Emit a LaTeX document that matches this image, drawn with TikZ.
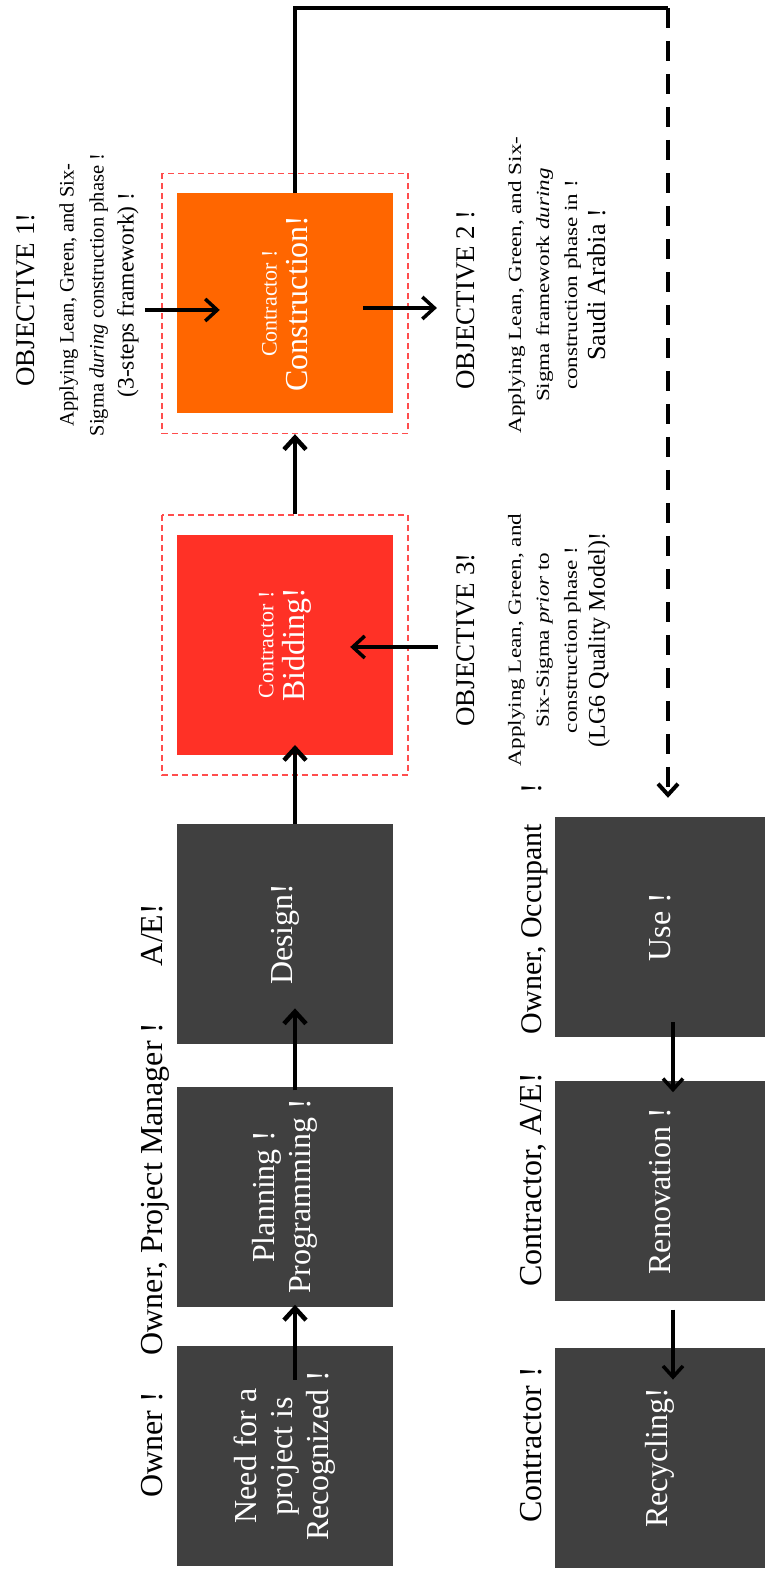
\documentclass[tikz,border=0pt]{standalone}
\usepackage{fontspec}
\setmainfont{Liberation Serif}
\newfontfamily\widefont{Liberation Serif}[FakeStretch=1.25]
\usepackage{xcolor}
\usepackage{tikz}
\usetikzlibrary{positioning, calc, arrows.meta}
\definecolor{stagegray}{RGB}{64, 64, 64}
\definecolor{bidred}{RGB}{255, 49, 38}
\definecolor{conorange}{RGB}{255, 102, 0}
\definecolor{zonered}{RGB}{255, 77, 77}

\begin{document}
\begin{tikzpicture}[rotate=90, transform shape, x=1pt, y=1pt, node distance=40pt,
    stagebox/.style={rectangle, fill=stagegray, text=white, minimum width=220pt, minimum height=216pt, inner sep=0pt, align=center, font=\fontsize{32}{36}\selectfont},
    lifebox/.style={stagebox, minimum height=210pt},
    zonebox/.style={rectangle, draw=zonered, line width=1.6pt, dash pattern=on 6pt off 4pt, minimum width=260pt, minimum height=246pt},
    rolelabel/.style={anchor=base, inner sep=0pt, font=\fontsize{32}{36}\selectfont},
    objtitle/.style={anchor=base, inner sep=0pt, font=\fontsize{27}{30}\selectfont},
    objtext/.style={inner sep=0pt, align=center, font=\widefont\fontsize{18.5}{28}\selectfont},
    flowarrow/.style={line width=4.5pt, -{Straight Barb[length=12pt, width=22pt]}},
    objarrow/.style={line width=3.5pt, -{Straight Barb[length=12pt, width=22pt]}},
    cyclearrow/.style={line width=3.5pt, -{Straight Barb[length=11pt, width=20pt]}},
    returnline/.style={line width=4pt}]

    \useasboundingbox (0,0) rectangle (1570,765);

    % Project stages
    \node[stagebox] (need) at (114,480) {Need for a\\ project is\\ Recognized !};
    \node[stagebox, right=39pt of need] (planning) {Planning !\\ Programming !};
    \node[stagebox, right=42pt of planning] (design) {Design!};
    \node[stagebox, fill=bidred, right=69pt of design] (bidding) {{\fontsize{22}{26}\selectfont Contractor !}\\[-5pt] Bidding!};
    \node[stagebox, fill=conorange, right=121pt of bidding] (construction) {{\fontsize{22}{26}\selectfont Contractor !}\\[-5pt] Construction!};
    \node[zonebox] (bidzone) at (bidding) {};
    \node[zonebox] (conzone) at (construction) {};

    % After construction
    \node[lifebox] (use) at (643,105) {Use !};
    \node[lifebox, left=44pt of use] (renovation) {Renovation !};
    \node[lifebox, left=46pt of renovation] (recycling) {Recycling!};

    % Roles
    \node[rolelabel] (ownerlbl) at (125,602) {Owner !};
    \node[rolelabel] (pmlbl) at (381,602) {Owner, Project Manager !};
    \node[rolelabel] (aelbl) at (635,602) {A/E!};
    \node[rolelabel, font=\fontsize{30}{34}\selectfont] (occupantlbl) at (661,223) {Owner, Occupant\quad !};
    \node[rolelabel] (renolbl) at (390,223) {Contractor, A/E!};
    \node[rolelabel] (recyclbl) at (125,223) {Contractor !};

    % Objectives
    \node[objtitle] (obj1title) at (1270,730) {OBJECTIVE 1!};
    \node[objtext, font=\fontsize{20.5}{30}\selectfont] (obj1text) at (1275,666) {Applying Lean, Green, and Six-\\ Sigma \textit{during} construction phase !\\ {\fontsize{23.5}{30}\selectfont (3-steps framework) !}};
    \node[objtitle] (obj2title) at (1270,290) {OBJECTIVE 2 !};
    \node[objtext] (obj2text) at (1285,208) {Applying Lean, Green, and Six-\\ Sigma framework \textit{during}\\ construction phase in !\\ {\rmfamily\fontsize{26}{30}\selectfont Saudi Arabia !}};
    \node[objtitle] (obj3title) at (930,290) {OBJECTIVE 3!};
    \node[objtext] (obj3text) at (930,206) {Applying Lean, Green, and\\ Six-Sigma \textit{prior} to\\ construction phase !\\ {\rmfamily\fontsize{24}{30}\selectfont (LG6 Quality Model)!}};

    % Connections
    \draw[flowarrow] ($(need.east)+(-34,-10)$) -- ($(planning.west)+(2,-10)$);
    \draw[flowarrow] ($(planning.east)+(-4,-10)$) -- ($(design.west)+(36,-10)$);
    \draw[flowarrow] ($(design.east)+(0,-10)$) -- ($(bidding.west)+(10,-10)$);
    \draw[flowarrow] ($(bidzone.east)+(0,-10)$) -- ($(conzone.west)+(0,-10)$);
    \coordinate (loopturn) at (1562,97);
    \draw[returnline] ($(construction.east)+(0,-10)$) -| (loopturn);
    \draw[returnline, dash pattern=on 20pt off 13pt, -{Straight Barb[length=11pt, width=20pt]}] (loopturn) -- ($(use.east)+(19,-8)$);
    \draw[cyclearrow] ($(use.west)+(15,-13)$) -- ($(renovation.east)+(-11,-13)$);
    \draw[cyclearrow] ($(renovation.west)+(-8,-13)$) -- ($(recycling.east)+(-32,-13)$);
    \draw[objarrow] ($(obj1text.south)+(-15,-6)$) -- ($(obj1text.south |- construction.north)+(-15,-43)$);
    \draw[objarrow] ($(obj2title.north |- construction.south)+(-8,30)$) -- ($(obj2title.north)+(-8,20)$);
    \draw[objarrow] ($(obj3title.north)+(-7,19)$) -- ($(obj3title.north |- bidding.south)+(-7,43)$);
\end{tikzpicture}
\end{document}
